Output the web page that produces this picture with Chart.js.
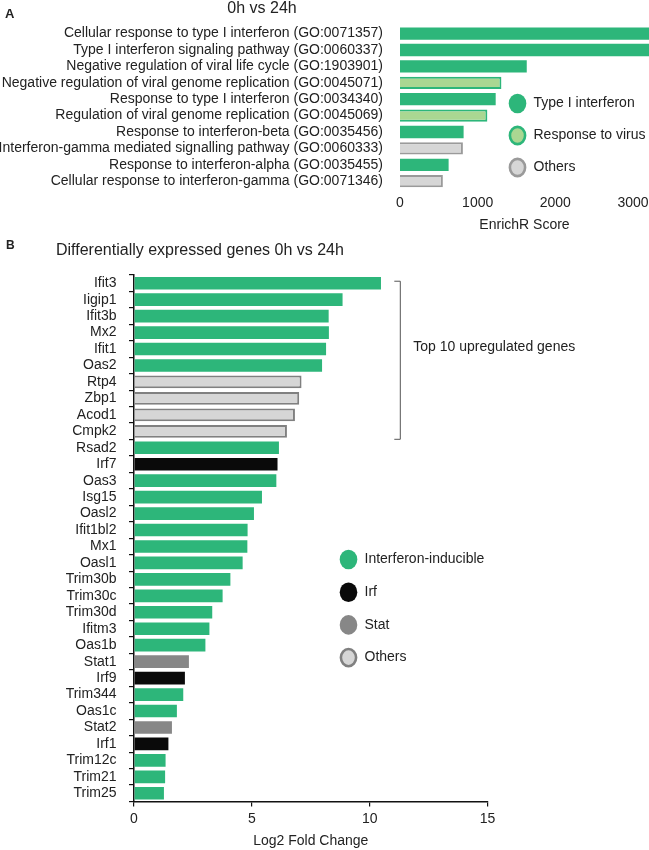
<!DOCTYPE html>
<html>
<head>
<meta charset="utf-8">
<script src="https://cdn.jsdelivr.net/npm/chart.js@4"></script>
<style>
  body { margin: 0; background: #fff; }
  #wrap { position: relative; width: 649px; height: 850px; }
  canvas { position: absolute; left: 0; }
  #topChart { top: 0; }
  #bottomChart { top: 240px; }
</style>
</head>
<body>
<div id="wrap">
  <canvas id="topChart" width="649" height="240"></canvas>
  <canvas id="bottomChart" width="649" height="610"></canvas>
</div>
<script>
// Panel A data
const goTerms = [
  "Cellular response to type I interferon (GO:0071357)",
  "Type I interferon signaling pathway (GO:0060337)",
  "Negative regulation of viral life cycle (GO:1903901)",
  "Negative regulation of viral genome replication (GO:0045071)",
  "Response to type I interferon (GO:0034340)",
  "Regulation of viral genome replication (GO:0045069)",
  "Response to interferon-beta (GO:0035456)",
  "Interferon-gamma mediated signalling pathway (GO:0060333)",
  "Response to interferon-alpha (GO:0035455)",
  "Cellular response to interferon-gamma (GO:0071346)"
];
const enrichScores = [3290, 3250, 1632, 1306, 1232, 1125, 819, 810, 626, 552];
const goGroups = ["type1", "type1", "type1", "virus", "type1", "virus", "type1", "others", "type1", "others"];
const scoreTicks = [0, 1000, 2000, 3000];

// Panel B data
const genes = [
  "Ifit3", "Iigip1", "Ifit3b", "Mx2", "Ifit1", "Oas2", "Rtp4", "Zbp1", "Acod1", "Cmpk2",
  "Rsad2", "Irf7", "Oas3", "Isg15", "Oasl2", "Ifit1bl2", "Mx1", "Oasl1", "Trim30b", "Trim30c",
  "Trim30d", "Ifitm3", "Oas1b", "Stat1", "Irf9", "Trim344", "Oas1c", "Stat2", "Irf1", "Trim12c",
  "Trim21", "Trim25"
];
const log2FC = [
  10.48, 8.85, 8.26, 8.27, 8.15, 7.98, 7.11, 7.01, 6.83, 6.49,
  6.15, 6.09, 6.04, 5.43, 5.09, 4.82, 4.81, 4.61, 4.09, 3.76,
  3.32, 3.20, 3.03, 2.33, 2.16, 2.09, 1.82, 1.61, 1.46, 1.34,
  1.32, 1.27
];
const geneGroups = [
  "ifn", "ifn", "ifn", "ifn", "ifn", "ifn", "others", "others", "others", "others",
  "ifn", "irf", "ifn", "ifn", "ifn", "ifn", "ifn", "ifn", "ifn", "ifn",
  "ifn", "ifn", "ifn", "stat", "irf", "ifn", "ifn", "stat", "irf", "ifn",
  "ifn", "ifn"
];

const green = "#2db67a";
const textColor = "#222";
const font = "Arial, 'Liberation Sans', sans-serif";
Chart.defaults.font.family = font;

const topStyle = {
  type1: { fill: green, border: green, width: 0, label: "Type I interferon" },
  virus: { fill: "#aad792", border: green, width: 2, label: "Response to virus" },
  others: { fill: "#d6d6d6", border: "#9a9a9a", width: 2, label: "Others" }
};
const geneStyle = {
  ifn: { fill: green, border: green, width: 0, label: "Interferon-inducible" },
  irf: { fill: "#0a0a0a", border: "#0a0a0a", width: 0, label: "Irf" },
  stat: { fill: "#878787", border: "#878787", width: 0, label: "Stat" },
  others: { fill: "#d6d6d6", border: "#808080", width: 2, label: "Others" }
};

// circle legend drawn next to the bars
function drawLegend(ctx, styles, cx, cy, gap) {
  ctx.save();
  ctx.font = "14px " + font;
  ctx.textBaseline = "middle";
  Object.values(styles).forEach((s, i) => {
    const y = cy + i * gap;
    ctx.beginPath();
    if (s.width) {
      ctx.ellipse(cx, y, 7.6, 8.6, 0, 0, Math.PI * 2);
      ctx.fillStyle = s.fill;
      ctx.fill();
      ctx.lineWidth = 2.6;
      ctx.strokeStyle = s.border;
      ctx.stroke();
    } else {
      ctx.ellipse(cx, y, 8.8, 9.8, 0, 0, Math.PI * 2);
      ctx.fillStyle = s.fill;
      ctx.fill();
    }
    ctx.fillStyle = textColor;
    ctx.fillText(s.label, cx + 16, y);
  });
  ctx.restore();
}

const topExtras = {
  id: "topExtras",
  afterDraw(chart) {
    const ctx = chart.ctx;
    ctx.save();
    ctx.fillStyle = textColor;
    ctx.textBaseline = "middle";
    ctx.font = "bold 13px " + font;
    ctx.fillText("A", 5, 14);
    ctx.font = "16px " + font;
    ctx.textAlign = "center";
    ctx.fillText("0h vs 24h", 262, 8.5);
    ctx.restore();
    drawLegend(ctx, topStyle, 517.5, 103.5, 32);
  }
};

const bottomExtras = {
  id: "bottomExtras",
  afterDraw(chart) {
    const ctx = chart.ctx;
    const xs = chart.scales.x, ys = chart.scales.y;
    ctx.save();
    ctx.fillStyle = textColor;
    ctx.textBaseline = "middle";
    ctx.font = "bold 12px " + font;
    ctx.fillText("B", 6, 6);
    ctx.font = "16px " + font;
    ctx.fillText("Differentially expressed genes 0h vs 24h", 56, 11);

    // bracket around the top 10 genes
    const bx = xs.getPixelForValue(11.3);
    const y1 = ys.getPixelForValue(0) - 2;
    const y2 = ys.getPixelForValue(9) + 8;
    ctx.strokeStyle = "#555";
    ctx.lineWidth = 1;
    ctx.beginPath();
    ctx.moveTo(bx - 6, y1);
    ctx.lineTo(bx, y1);
    ctx.lineTo(bx, y2);
    ctx.lineTo(bx - 6, y2);
    ctx.stroke();
    ctx.font = "14px " + font;
    ctx.fillText("Top 10 upregulated genes", bx + 13, ys.getPixelForValue(3.9));
    ctx.restore();
    drawLegend(ctx, geneStyle, 348.5, 319.5, 32.7);
  }
};

new Chart(document.getElementById("topChart"), {
  type: "bar",
  data: {
    labels: goTerms,
    datasets: [{
      data: enrichScores,
      backgroundColor: goGroups.map(g => topStyle[g].fill),
      borderColor: goGroups.map(g => topStyle[g].border),
      borderWidth: goGroups.map(g => topStyle[g].width),
      barPercentage: 0.75,
      categoryPercentage: 1
    }]
  },
  options: {
    indexAxis: "y",
    responsive: false,
    animation: false,
    layout: { padding: { top: 22, right: 0, bottom: 0, left: 0 } },
    plugins: { legend: { display: false }, tooltip: { enabled: false } },
    scales: {
      x: {
        min: 0,
        max: 3206,
        grid: { display: false, drawTicks: false },
        border: { display: false },
        ticks: { autoSkip: false, padding: 5.5, color: textColor, font: { size: 14 }, callback: v => String(v) },
        afterBuildTicks: a => { a.ticks = scoreTicks.map(v => ({ value: v })); },
        afterFit: a => { a.height = 50.6; a.paddingRight = 0; a.paddingLeft = 0; },
        title: { display: true, text: "EnrichR Score", color: textColor, font: { size: 14 }, padding: { top: 0, bottom: 6.6 } }
      },
      y: {
        grid: { display: false, drawTicks: false },
        border: { display: false },
        ticks: { padding: 17, color: textColor, font: { size: 14 }, autoSkip: false },
        afterFit: a => { a.width = 400; }
      }
    }
  },
  plugins: [topExtras]
});

new Chart(document.getElementById("bottomChart"), {
  type: "bar",
  data: {
    labels: genes,
    datasets: [{
      data: log2FC,
      backgroundColor: geneGroups.map(g => geneStyle[g].fill),
      borderColor: geneGroups.map(g => geneStyle[g].border),
      borderWidth: geneGroups.map(g => geneStyle[g].width),
      barPercentage: 0.77,
      categoryPercentage: 1
    }]
  },
  options: {
    indexAxis: "y",
    responsive: false,
    animation: false,
    layout: { padding: { top: 35, right: 161.5, bottom: 0, left: 0 } },
    plugins: { legend: { display: false }, tooltip: { enabled: false } },
    scales: {
      x: {
        min: 0,
        max: 15,
        grid: { drawOnChartArea: false, tickLength: 5, color: "#111", lineWidth: 1.2 },
        border: { color: "#111", width: 1.5 },
        ticks: { stepSize: 5, padding: 4, color: textColor, font: { size: 14 } },
        afterFit: a => { a.height = 48.5; },
        title: { display: true, text: "Log2 Fold Change", color: textColor, font: { size: 14 }, padding: { top: 0, bottom: 0 } }
      },
      y: {
        grid: { drawOnChartArea: false, tickLength: 5, color: "#111", lineWidth: 1.2 },
        border: { color: "#111", width: 1.5 },
        ticks: { padding: 12.5, color: textColor, font: { size: 14 }, autoSkip: false },
        afterFit: a => { a.width = 134; }
      }
    }
  },
  plugins: [bottomExtras]
});
</script>
</body>
</html>
